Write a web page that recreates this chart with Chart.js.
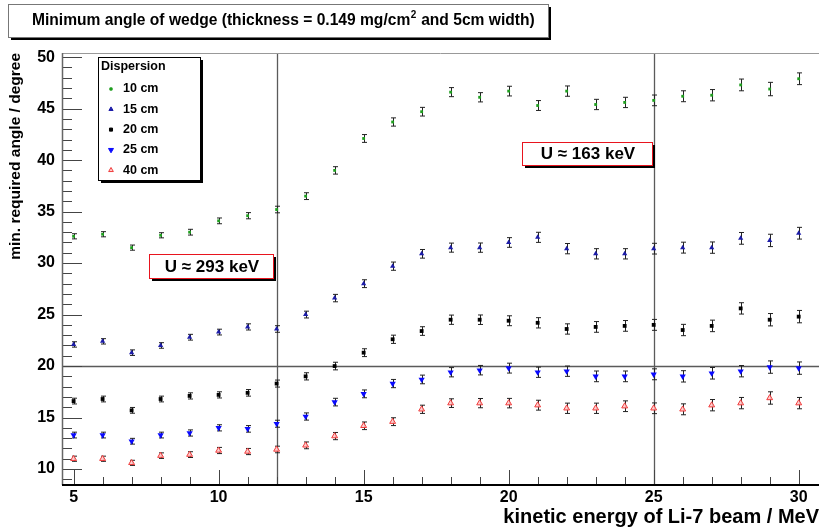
<!DOCTYPE html>
<html>
<head>
<meta charset="utf-8">
<script src="https://cdn.jsdelivr.net/npm/chart.js@4/dist/chart.umd.min.js"></script>
<style>
  html, body { margin: 0; padding: 0; background: #fff; }
  canvas { display: block; }
</style>
</head>
<body>
<canvas id="myChart" width="819" height="531"></canvas>
<script>
// beam energy (MeV)
const energia = [5, 6, 7, 8, 9, 10, 11, 12, 13, 14, 15, 16, 17, 18, 19, 20, 21, 22, 23, 24, 25, 26, 27, 28, 29, 30];

// minimum angle (degree) per dispersion
const disp10 = [32.6, 32.8, 31.5, 32.7, 33.0, 34.1, 34.6, 35.2, 36.5, 39.0, 42.1, 43.7, 44.7, 46.6, 46.1, 46.7, 45.3, 46.7, 45.4, 45.6, 45.8, 46.2, 46.3, 47.3, 46.9, 47.9];
const disp15 = [22.1, 22.4, 21.3, 22.0, 22.8, 23.3, 23.8, 23.6, 25.0, 26.6, 28.0, 29.7, 30.9, 31.5, 31.5, 32.0, 32.5, 31.4, 30.9, 30.9, 31.4, 31.5, 31.5, 32.4, 32.2, 32.9];
const disp20 = [16.6, 16.8, 15.7, 16.8, 17.1, 17.2, 17.4, 18.3, 19.0, 20.0, 21.3, 22.6, 23.4, 24.5, 24.5, 24.4, 24.2, 23.6, 23.8, 23.9, 24.0, 23.5, 23.9, 25.6, 24.5, 24.8];
const disp25 = [13.3, 13.3, 12.7, 13.3, 13.5, 14.0, 13.9, 14.4, 15.1, 16.5, 17.3, 18.3, 18.7, 19.4, 19.6, 19.8, 19.4, 19.5, 19.0, 19.0, 19.2, 19.0, 19.3, 19.5, 19.9, 19.8];
const disp40 = [11.0, 11.0, 10.6, 11.3, 11.4, 11.8, 11.7, 11.9, 12.3, 13.2, 14.2, 14.6, 15.8, 16.4, 16.4, 16.4, 16.2, 15.9, 15.9, 16.1, 15.9, 15.8, 16.2, 16.4, 16.9, 16.4];

// errors (degree)
const erro10 = [0.25, 0.25, 0.25, 0.25, 0.28, 0.28, 0.3, 0.32, 0.33, 0.36, 0.38, 0.4, 0.42, 0.44, 0.45, 0.47, 0.48, 0.5, 0.5, 0.5, 0.52, 0.53, 0.55, 0.57, 0.65, 0.57];
const erro15 = [0.26, 0.26, 0.27, 0.27, 0.28, 0.28, 0.3, 0.32, 0.33, 0.36, 0.38, 0.4, 0.42, 0.44, 0.45, 0.47, 0.49, 0.5, 0.5, 0.5, 0.52, 0.53, 0.55, 0.57, 0.6, 0.57];
const erro20 = [0.28, 0.28, 0.28, 0.28, 0.3, 0.3, 0.32, 0.34, 0.35, 0.37, 0.38, 0.4, 0.42, 0.45, 0.46, 0.48, 0.5, 0.5, 0.52, 0.52, 0.53, 0.55, 0.56, 0.55, 0.6, 0.6];
const erro25 = [0.28, 0.28, 0.28, 0.28, 0.3, 0.3, 0.32, 0.34, 0.35, 0.37, 0.38, 0.4, 0.42, 0.45, 0.46, 0.48, 0.5, 0.5, 0.52, 0.52, 0.53, 0.55, 0.56, 0.55, 0.6, 0.6];
const erro40 = [0.25, 0.25, 0.25, 0.27, 0.28, 0.3, 0.3, 0.32, 0.33, 0.35, 0.37, 0.38, 0.4, 0.42, 0.45, 0.46, 0.48, 0.5, 0.5, 0.52, 0.52, 0.53, 0.55, 0.55, 0.6, 0.55];

const rotulos = ['10 cm', '15 cm', '20 cm', '25 cm', '40 cm'];
const ticksX = [5, 10, 15, 20, 25, 30];
const ticksY = [10, 15, 20, 25, 30, 35, 40, 45, 50];
const linhasV = [12, 25];
const linhasH = [20];
const notas = ['U \u2248 293 keV', 'U \u2248 163 keV'];
const titulo = 'Minimum angle of wedge (thickness = 0.149 mg/cm';

const FONTE = '"Liberation Sans", Arial, Helvetica, sans-serif';

function pontos(ys) {
  return energia.map((x, i) => ({ x: x, y: ys[i] }));
}

const ctx = document.getElementById('myChart').getContext('2d');

// frame, ticks and reference lines
const moldura = {
  id: 'moldura',
  beforeDatasetsDraw(chart) {
    const { ctx, chartArea: a, scales: { x, y } } = chart;
    ctx.save();
    ctx.strokeStyle = '#5a5a5a';
    ctx.lineWidth = 1.3;
    linhasV.forEach(v => {
      const px = Math.round(x.getPixelForValue(v)) + 0.5;
      ctx.beginPath(); ctx.moveTo(px, a.top); ctx.lineTo(px, a.bottom); ctx.stroke();
    });
    linhasH.forEach(v => {
      const py = Math.round(y.getPixelForValue(v)) + 0.5;
      ctx.beginPath(); ctx.moveTo(a.left, py); ctx.lineTo(a.right, py); ctx.stroke();
    });
    // ticks inward
    ctx.strokeStyle = '#444';
    ctx.lineWidth = 1;
    for (let v = Math.ceil(y.min); v <= y.max; v++) {
      const py = Math.round(y.getPixelForValue(v)) + 0.5;
      const len = v % 5 === 0 ? 20 : 10;
      ctx.beginPath(); ctx.moveTo(a.left, py); ctx.lineTo(a.left + len, py); ctx.stroke();
    }
    for (let v = Math.ceil(x.min); v <= x.max; v++) {
      const px = Math.round(x.getPixelForValue(v)) + 0.5;
      const len = v % 5 === 0 ? 15 : 8;
      ctx.beginPath(); ctx.moveTo(px, a.bottom); ctx.lineTo(px, a.bottom - len); ctx.stroke();
    }
    // frame
    ctx.strokeStyle = '#999';
    ctx.beginPath(); ctx.moveTo(a.left, a.top + 0.5); ctx.lineTo(a.right, a.top + 0.5); ctx.stroke();
    ctx.strokeStyle = '#666';
    ctx.lineWidth = 1.5;
    ctx.beginPath(); ctx.moveTo(a.left + 0.5, a.top); ctx.lineTo(a.left + 0.5, a.bottom); ctx.stroke();
    ctx.strokeStyle = '#000';
    ctx.lineWidth = 2;
    ctx.beginPath(); ctx.moveTo(a.left, a.bottom); ctx.lineTo(a.right, a.bottom); ctx.stroke();

    // error bars
    ctx.strokeStyle = '#222';
    ctx.lineWidth = 1;
    chart.data.datasets.forEach((ds, di) => {
      const meta = chart.getDatasetMeta(di);
      meta.data.forEach((pt, i) => {
        const e = ds.erros[i];
        const v = ds.data[i].y;
        const px = Math.round(pt.x) + 0.5;
        const y1 = y.getPixelForValue(v - e);
        const y2 = y.getPixelForValue(v + e);
        ctx.beginPath();
        ctx.moveTo(px, y1); ctx.lineTo(px, y2);
        ctx.moveTo(px - 2.5, y1); ctx.lineTo(px + 2.5, y1);
        ctx.moveTo(px - 2.5, y2); ctx.lineTo(px + 2.5, y2);
        ctx.stroke();
      });
    });
    ctx.restore();
  },
  afterDraw(chart) {
    const { ctx } = chart;
    ctx.save();

    function caixa(x0, y0, w, h, borda) {
      ctx.fillStyle = '#000';
      ctx.fillRect(x0 + 3, y0 + 3, w, h);
      ctx.fillStyle = '#fff';
      ctx.fillRect(x0, y0, w, h);
      ctx.strokeStyle = borda;
      ctx.lineWidth = 1;
      ctx.strokeRect(x0 + 0.5, y0 + 0.5, w, h);
    }

    // title
    caixa(8, 4, 540, 33, '#777');
    ctx.fillStyle = '#000';
    ctx.textBaseline = 'middle';
    ctx.textAlign = 'left';
    ctx.font = 'bold 15.6px ' + FONTE;
    let tx = 32;
    ctx.fillText(titulo, tx, 21);
    tx += ctx.measureText(titulo).width;
    ctx.font = 'bold 10px ' + FONTE;
    ctx.fillText('2', tx + 0.5, 15);
    tx += ctx.measureText('2').width + 1;
    ctx.font = 'bold 15.6px ' + FONTE;
    ctx.fillText(' and 5cm width)', tx, 21);

    // U boxes
    const posNotas = [[149, 254, 124, 24], [522, 142, 130, 23]];
    notas.forEach((t, i) => {
      const [x0, y0, w, h] = posNotas[i];
      caixa(x0, y0, w, h, '#e8141e');
      ctx.fillStyle = '#000';
      ctx.font = 'bold 17px ' + FONTE;
      ctx.textAlign = 'center';
      ctx.fillText(t, x0 + w / 2 + 1, y0 + h / 2 + 1);
    });

    // legend
    caixa(98, 57, 102, 123, '#000');
    ctx.fillStyle = '#000';
    ctx.textAlign = 'left';
    ctx.font = 'bold 12.5px ' + FONTE;
    ctx.fillText('Dispersion', 101, 67);
    chart.data.datasets.forEach((ds, i) => {
      const yy = 89 + i * 20.3;
      ctx.fillStyle = '#000';
      ctx.font = 'bold 12.5px ' + FONTE;
      ctx.fillText(ds.label, 123, yy);
      ctx.fillStyle = ds.backgroundColor;
      ctx.strokeStyle = ds.borderColor;
      ctx.lineWidth = 1;
      Chart.helpers.drawPoint(ctx, {
        pointStyle: ds.pointStyle,
        radius: ds.pointRadius * 0.8,
        rotation: ds.rotation || 0,
        borderWidth: 1
      }, 111, yy);
    });
    ctx.restore();
  }
};

new Chart(ctx, {
  type: 'scatter',
  data: {
    datasets: [{
      label: rotulos[0],
      data: pontos(disp10),
      erros: erro10,
      pointStyle: 'rect',
      pointRadius: 2,
      backgroundColor: '#1f9e1f',
      borderColor: '#1f9e1f',
      borderWidth: 0
    }, {
      label: rotulos[1],
      data: pontos(disp15),
      erros: erro15,
      pointStyle: 'triangle',
      pointRadius: 3,
      backgroundColor: '#1c1ca8',
      borderColor: '#1c1ca8',
      borderWidth: 0
    }, {
      label: rotulos[2],
      data: pontos(disp20),
      erros: erro20,
      pointStyle: 'rect',
      pointRadius: 2.7,
      backgroundColor: '#000',
      borderColor: '#000',
      borderWidth: 0
    }, {
      label: rotulos[3],
      data: pontos(disp25),
      erros: erro25,
      pointStyle: 'triangle',
      rotation: 180,
      pointRadius: 3.6,
      backgroundColor: '#0a0aff',
      borderColor: '#0a0aff',
      borderWidth: 0
    }, {
      label: rotulos[4],
      data: pontos(disp40),
      erros: erro40,
      pointStyle: 'triangle',
      pointRadius: 3.4,
      backgroundColor: 'rgba(255,200,200,0.9)',
      borderColor: '#f03c3c',
      borderWidth: 1
    }]
  },
  options: {
    responsive: false,
    animation: false,
    devicePixelRatio: 1,
    layout: { autoPadding: false, padding: { top: 53, right: 0, left: 0, bottom: 0 } },
    plugins: {
      legend: { display: false },
      tooltip: { enabled: false },
      title: { display: false }
    },
    scales: {
      x: {
        type: 'linear',
        min: 4.6,
        max: 30.7,
        afterBuildTicks: s => { s.ticks = ticksX.map(v => ({ value: v })); },
        afterFit: s => { s.height = 46; s.paddingLeft = 0; s.paddingRight = 0; },
        grid: { display: false, drawTicks: false },
        border: { display: false },
        ticks: {
          padding: 3,
          color: '#000',
          maxRotation: 0,
          font: { family: FONTE, size: 16, weight: 'bold' }
        },
        title: {
          display: true,
          text: 'kinetic energy of Li-7 beam / MeV',
          align: 'end',
          color: '#000',
          padding: { top: 0, bottom: 2 },
          font: { family: FONTE, size: 20, weight: 'bold' }
        }
      },
      y: {
        type: 'linear',
        min: 8.45,
        max: 50.4,
        afterBuildTicks: s => { s.ticks = ticksY.map(v => ({ value: v })); },
        afterFit: s => { s.width = 62; },
        grid: { display: false, drawTicks: false },
        border: { display: false },
        ticks: {
          padding: 7,
          color: '#000',
          font: { family: FONTE, size: 16, weight: 'bold' }
        },
        title: {
          display: true,
          text: 'min. required angle / degree',
          align: 'end',
          color: '#000',
          padding: { top: 6, bottom: 0 },
          font: { family: FONTE, size: 15.5, weight: 'bold' }
        }
      }
    }
  },
  plugins: [moldura]
});
</script>
</body>
</html>
